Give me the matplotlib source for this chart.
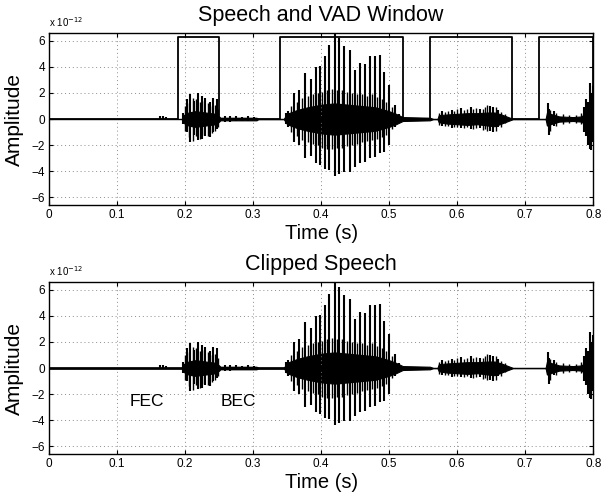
import matplotlib.pyplot as plt

plt.rcParams["font.family"] = ["Liberation Sans", "DejaVu Sans"]

# VAD decision windows (s) and their height (x 1e-12)
vad_start = [0.19, 0.34, 0.56, 0.72]
vad_end = [0.25, 0.52, 0.68, 0.80]
vad_level = 6.3

# main pitch pulses: time (s), upper and lower peak (x 1e-12)
pulse_t = [0.163, 0.168, 0.172,
           0.197, 0.203, 0.208, 0.213, 0.219, 0.225, 0.230, 0.236, 0.241, 0.247,
           0.258, 0.266, 0.275, 0.283, 0.292, 0.301,
           0.348, 0.352, 0.360, 0.368, 0.377, 0.385, 0.392, 0.398, 0.405, 0.412,
           0.420, 0.427, 0.434, 0.442, 0.450, 0.457, 0.464, 0.472, 0.479, 0.486,
           0.493, 0.500, 0.508, 0.514,
           0.578, 0.592, 0.605, 0.620, 0.633, 0.648, 0.652, 0.660,
           0.733, 0.735, 0.742, 0.787, 0.790, 0.793, 0.795, 0.797, 0.799]
pulse_hi = [0.2, 0.25, 0.15,
            0.5, 1.5, 1.9, 1.4, 2.0, 1.8, 1.6, 1.3, 1.6, 1.5,
            0.25, 0.2, 0.2, 0.15, 0.2, 0.15,
            0.5, 0.6, 2.0, 2.2, 3.5, 3.1, 4.0, 4.1, 4.8, 5.7,
            6.5, 6.2, 5.6, 5.3, 3.8, 4.3, 4.2, 4.8, 4.8, 4.9,
            3.6, 2.6, 1.1, 0.4,
            0.6, 0.7, 0.85, 0.9, 0.8, 1.0, 0.95, 0.7,
            1.2, 0.8, 0.6, 0.9, 1.5, 1.3, 2.8, 2.0, 2.5]
pulse_lo = [-0.1, -0.1, -0.1,
            -0.4, -1.0, -1.8, -1.2, -1.6, -1.5, -1.3, -1.4, -1.0, -0.8,
            -0.2, -0.2, -0.15, -0.15, -0.15, -0.1,
            -0.4, -0.6, -1.8, -2.0, -3.0, -2.8, -3.4, -3.5, -3.8, -3.9,
            -4.4, -4.2, -4.1, -4.1, -3.7, -3.4, -3.3, -3.0, -2.9, -2.6,
            -2.5, -2.0, -0.6, -0.3,
            -0.5, -0.7, -0.7, -0.75, -0.7, -0.9, -1.0, -0.6,
            -0.5, -1.25, -0.5, -1.0, -1.3, -2.0, -2.3, -2.4, -1.8]

# smaller oscillations between the main pulses
fine_t = [0.200, 0.206, 0.211, 0.216, 0.222, 0.228, 0.233, 0.239, 0.244, 0.249,
          0.356, 0.364, 0.372, 0.381, 0.388, 0.395, 0.401, 0.408, 0.416, 0.423,
          0.430, 0.438, 0.446, 0.453, 0.460, 0.468, 0.475, 0.482, 0.489, 0.496,
          0.504,
          0.574, 0.582, 0.586, 0.596, 0.600, 0.610, 0.614, 0.624, 0.628, 0.638,
          0.641, 0.644, 0.657, 0.664, 0.670,
          0.737, 0.746, 0.755, 0.764, 0.775, 0.782]
fine_hi = [1.0, 1.2, 1.6, 1.5, 1.3, 1.4, 1.2, 1.0, 1.1, 0.8,
           1.0, 1.3, 1.6, 1.8, 1.9, 2.0, 2.1, 2.2, 2.3, 2.2,
           2.2, 2.1, 2.0, 1.9, 1.9, 1.8, 1.9, 1.7, 1.5, 1.3,
           0.9,
           0.5, 0.55, 0.65, 0.6, 0.75, 0.7, 0.8, 0.75, 0.85, 0.8,
           0.95, 1.05, 0.9, 0.55, 0.35,
           0.7, 0.45, 0.35, 0.3, 0.3, 0.45]
fine_lo = [-0.9, -1.4, -1.7, -1.3, -1.5, -1.2, -1.3, -1.1, -0.9, -0.6,
           -1.0, -1.3, -1.6, -1.8, -1.9, -2.0, -2.2, -2.3, -2.3, -2.2,
           -2.2, -2.1, -2.0, -1.9, -1.8, -1.7, -1.6, -1.5, -1.4, -1.2,
           -0.8,
           -0.45, -0.55, -0.5, -0.65, -0.6, -0.7, -0.65, -0.75, -0.7, -0.85,
           -0.8, -0.9, -0.95, -0.6, -0.3,
           -0.9, -0.5, -0.35, -0.3, -0.3, -0.4]

# dense core of the waveform: time (s), upper and lower edge (x 1e-12)
body_t = [0.195, 0.198, 0.205, 0.215, 0.230, 0.245, 0.250, 0.252, 0.305, 0.308,
          0.345, 0.350, 0.355, 0.365, 0.380, 0.400, 0.420, 0.440, 0.460, 0.480,
          0.500, 0.510, 0.520, 0.560, 0.565,
          0.571, 0.573, 0.585, 0.600, 0.615, 0.630, 0.645, 0.655, 0.665, 0.675,
          0.680, 0.682,
          0.730, 0.732, 0.740, 0.750, 0.770, 0.783, 0.790, 0.800]
body_hi = [0.0, 0.3, 0.5, 0.6, 0.5, 0.4, 0.2, 0.1, 0.1, 0.0,
           0.0, 0.4, 0.5, 0.7, 0.9, 1.1, 1.2, 1.1, 1.0, 0.9,
           0.6, 0.4, 0.15, 0.1, 0.0,
           0.0, 0.3, 0.35, 0.4, 0.45, 0.45, 0.5, 0.5, 0.35, 0.15,
           0.05, 0.0,
           0.0, 0.5, 0.35, 0.2, 0.15, 0.2, 0.6, 0.8]
body_lo = [0.0, -0.3, -0.5, -0.6, -0.5, -0.4, -0.2, -0.1, -0.1, 0.0,
           0.0, -0.4, -0.5, -0.7, -0.9, -1.1, -1.2, -1.1, -1.0, -0.9,
           -0.6, -0.4, -0.15, -0.1, 0.0,
           0.0, -0.25, -0.35, -0.4, -0.45, -0.4, -0.5, -0.55, -0.35, -0.15,
           -0.05, 0.0,
           0.0, -0.5, -0.35, -0.2, -0.15, -0.2, -0.6, -0.8]

# low background noise left in the clipped signal
noise_t = [0.0, 0.52]
noise_amp = 0.08

xticks = [0, 0.1, 0.2, 0.3, 0.4, 0.5, 0.6, 0.7, 0.8]
xticklabels = ["0", "0.1", "0.2", "0.3", "0.4", "0.5", "0.6", "0.7", "0.8"]
yticks = [-6, -4, -2, 0, 2, 4, 6]
yticklabels = ["\u22126", "\u22124", "\u22122", "0", "2", "4", "6"]


def draw_speech(ax):
    ax.axhline(0, color="black", lw=1.0)
    ax.fill_between(body_t, body_lo, body_hi, color="black", lw=0.8)
    ax.vlines(fine_t, fine_lo, fine_hi, color="black", lw=1.0)
    ax.vlines(pulse_t, pulse_lo, pulse_hi, color="black", lw=1.5)


def style_axes(ax, title):
    ax.set_xlim(0, 0.8)
    ax.set_ylim(-6.6, 6.6)
    ax.set_xticks(xticks)
    ax.set_xticklabels(xticklabels)
    ax.set_yticks(yticks)
    ax.set_yticklabels(yticklabels)
    ax.tick_params(direction="in", length=3, width=0.8, labelsize=8.5,
                   top=True, right=True, pad=3)
    ax.grid(True, color="0.55", linestyle=(0, (1, 3)), lw=0.7)
    for s in ax.spines.values():
        s.set_linewidth(1.0)
    ax.set_title(title, fontsize=15.5, pad=9)
    ax.set_xlabel("Time (s)", fontsize=14.5)
    ax.set_ylabel("Amplitude", fontsize=15)
    ax.xaxis.set_label_coords(0.5, -0.108)
    ax.yaxis.set_label_coords(-0.046, 0.5)
    ax.text(0.0, 1.035, r"x 10$^{-12}$", transform=ax.transAxes,
            fontsize=7, va="baseline", ha="left")


fig = plt.figure(figsize=(6.02, 4.97), dpi=100)
ax1 = fig.add_axes([0.0814, 0.5875, 0.904, 0.346])
ax2 = fig.add_axes([0.0814, 0.0865, 0.904, 0.346])

# top: speech with the VAD window
draw_speech(ax1)
vx = [0.0]
vy = [0.0]
for s, e in zip(vad_start, vad_end):
    vx += [s, s, e, e]
    vy += [0.0, vad_level, vad_level, 0.0]
ax1.plot(vx, vy, color="black", lw=1.3)
style_axes(ax1, "Speech and VAD Window")

# bottom: clipped speech
ax2.fill_between(noise_t, -noise_amp, noise_amp, color="black", lw=0.5)
draw_speech(ax2)
ax2.text(0.144, -2.6, "FEC", fontsize=12.5, ha="center", va="center")
ax2.text(0.278, -2.6, "BEC", fontsize=12.5, ha="center", va="center")
style_axes(ax2, "Clipped Speech")

fig.savefig("out.png", dpi=100)
